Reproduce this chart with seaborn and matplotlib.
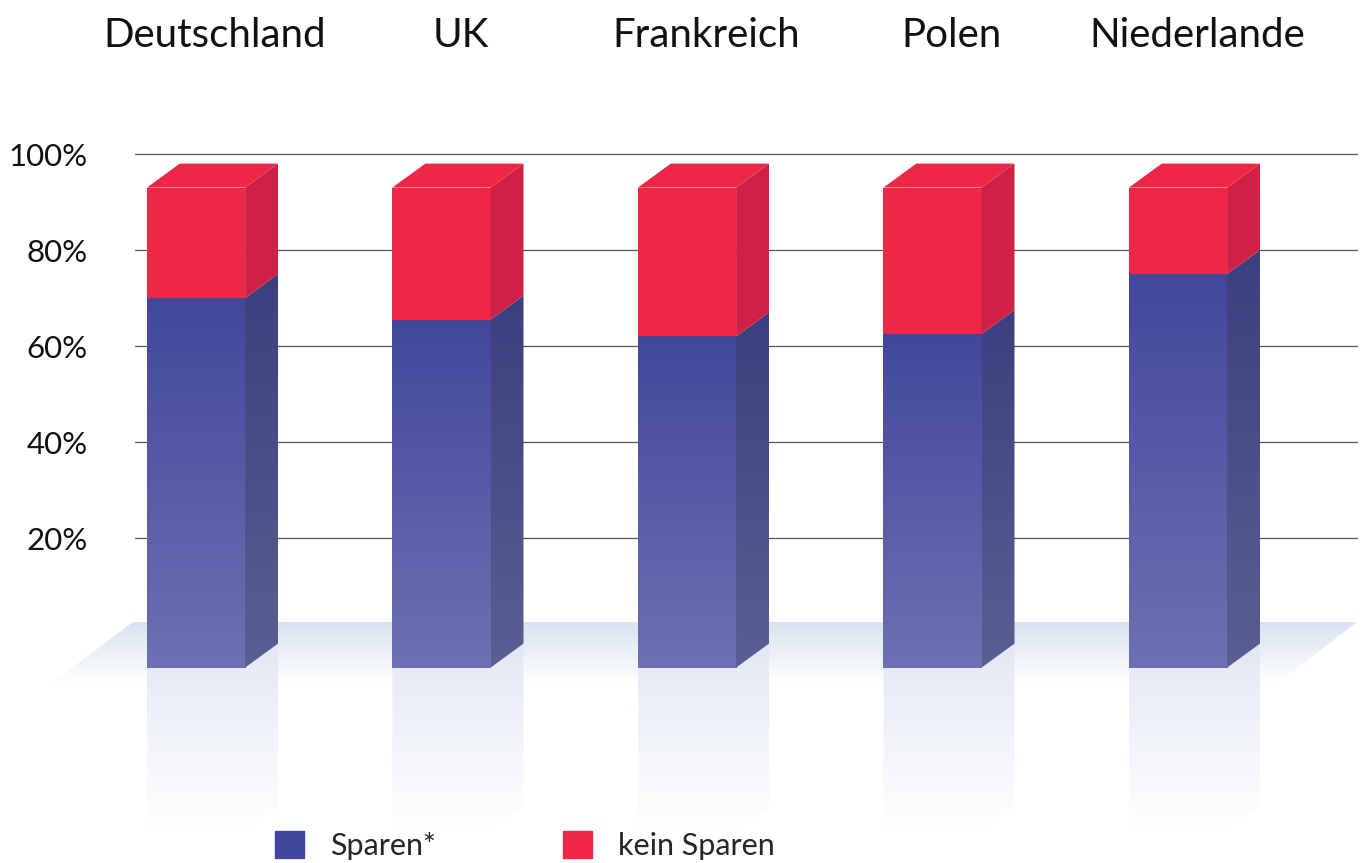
import numpy as np
import pandas as pd
import matplotlib
matplotlib.use('Agg')
import matplotlib.pyplot as plt
import seaborn as sns
from matplotlib.colors import to_rgb
from matplotlib.patches import Patch, Polygon

laender = ['Deutschland', 'UK', 'Frankreich', 'Polen', 'Niederlande']
sparen = [77, 72.5, 69, 69.5, 82]
kein_sparen = [23, 27.5, 31, 30.5, 18]
y_ticks = [20, 40, 60, 80, 100]

schrift = 'Lato'
blau_oben, blau_unten = '#43479B', '#6C71B3'
seite_oben, seite_unten = '#3B3F7E', '#5A5F92'
rot, rot_seite = '#EE2746', '#CF2045'

# Scheinbare Tiefe der Saeulen und Lage der Vorderkante
basis = -7
tiefe_x, tiefe_y = 0.134, 5
spiegel = 34

sns.set_style('white')
plt.rcParams['font.family'] = [schrift, 'DejaVu Sans']

df = pd.DataFrame({'land': laender, 'sparen': sparen, 'kein': kein_sparen})

fig = plt.figure(figsize=(13.65, 8.63), dpi=100)
ax = fig.add_axes([135 / 1365, 0, (1358 - 135) / 1365, 1])

sns.barplot(data=df, x='land', y='sparen', color=blau_oben, saturation=1,
            width=0.4, bottom=basis, linewidth=0, edgecolor='none', ax=ax, zorder=3)
sns.barplot(data=df, x='land', y='kein', color=rot, saturation=1,
            width=0.4, bottom=df['sparen'] + basis, linewidth=0, edgecolor='none',
            ax=ax, zorder=3)


def verlauf(patch, links, rechts, oben, unten, farbe_oben, farbe_unten, zorder):
    # senkrechter Farbverlauf, auf die Form zugeschnitten
    t = np.linspace(0, 1, 256)[:, None, None]
    bild = np.array(to_rgb(farbe_oben)) * (1 - t) + np.array(to_rgb(farbe_unten)) * t
    im = ax.imshow(bild, extent=(links, rechts, unten, oben), aspect='auto',
                   interpolation='bilinear', zorder=zorder)
    im.set_clip_box(fig.bbox)
    im.set_clip_path(patch)


def flaeche(punkte, zorder, farbe='none'):
    poly = Polygon(punkte, closed=True, facecolor=farbe, edgecolor='none',
                   linewidth=0, zorder=zorder, clip_on=False)
    ax.add_patch(poly)
    return poly


# Boden
boden = flaeche([(-0.257, 2.5), (4.729, 2.5), (4.40, -10.5), (-0.595, -10.5)], 1)
verlauf(boden, -0.6, 4.75, 2.5, -10.5, '#D9E2EE', '#FFFFFF', 1)

for i, patch in enumerate(ax.containers[0]):
    li = patch.get_x()
    re = li + patch.get_width()
    grenze = basis + sparen[i]
    top = grenze + kein_sparen[i]

    # Spiegelung unter der Saeule
    sp = flaeche([(li, basis), (re + tiefe_x, basis + tiefe_y),
                  (re + tiefe_x, basis - spiegel + tiefe_y),
                  (re, basis - spiegel), (li, basis - spiegel)], 2)
    verlauf(sp, li, re + tiefe_x, basis + tiefe_y, basis - spiegel, '#E2E8F3', '#FFFFFF', 2)

    # Vorderseite blau
    patch.set_facecolor('none')
    verlauf(patch, li, re, grenze, basis, blau_oben, blau_unten, 3)

    # Seitenflaeche blau
    seite = flaeche([(re, basis), (re + tiefe_x, basis + tiefe_y),
                     (re + tiefe_x, grenze + tiefe_y), (re, grenze)], 3)
    verlauf(seite, re, re + tiefe_x, grenze + tiefe_y, basis, seite_oben, seite_unten, 3)

    # Seitenflaeche und Deckel rot
    flaeche([(re, grenze), (re + tiefe_x, grenze + tiefe_y),
             (re + tiefe_x, top + tiefe_y), (re, top)], 4, rot_seite)
    flaeche([(li, top), (li + tiefe_x, top + tiefe_y),
             (re + tiefe_x, top + tiefe_y), (re, top)], 4, rot)

    ax.text(i + 0.077, 122.3, laender[i], ha='center', va='baseline',
            fontsize=29, color='#111111', family=schrift)

ax.set_xlim((135 - 196) / 245.5, (1358 - 196) / 245.5)
ax.set_ylim((634 - 863) / 4.8, 634 / 4.8)
ax.set_xticks([])
ax.set_xlabel('')
ax.set_ylabel('')
ax.set_yticks(y_ticks)
ax.set_yticklabels([f'{v}%' for v in y_ticks], fontsize=22.5, color='#111111')
ax.tick_params(axis='y', length=0, pad=34)
ax.yaxis.grid(True, color='#555555', linewidth=0.9)
ax.set_axisbelow(True)
sns.despine(ax=ax, left=True, bottom=True)
ax.patch.set_visible(False)

griffe = [Patch(color=blau_oben, label='Sparen*'), Patch(color=rot, label='kein Sparen')]
fig.legend(handles=griffe, ncol=2, frameon=False, fontsize=22,
           loc='lower left', bbox_to_anchor=(275 / 1365, 3 / 863),
           borderpad=0, borderaxespad=0, handlelength=0.95, handleheight=0.95,
           handletextpad=0.85, columnspacing=4.15)

fig.savefig('out.png', dpi=100)
